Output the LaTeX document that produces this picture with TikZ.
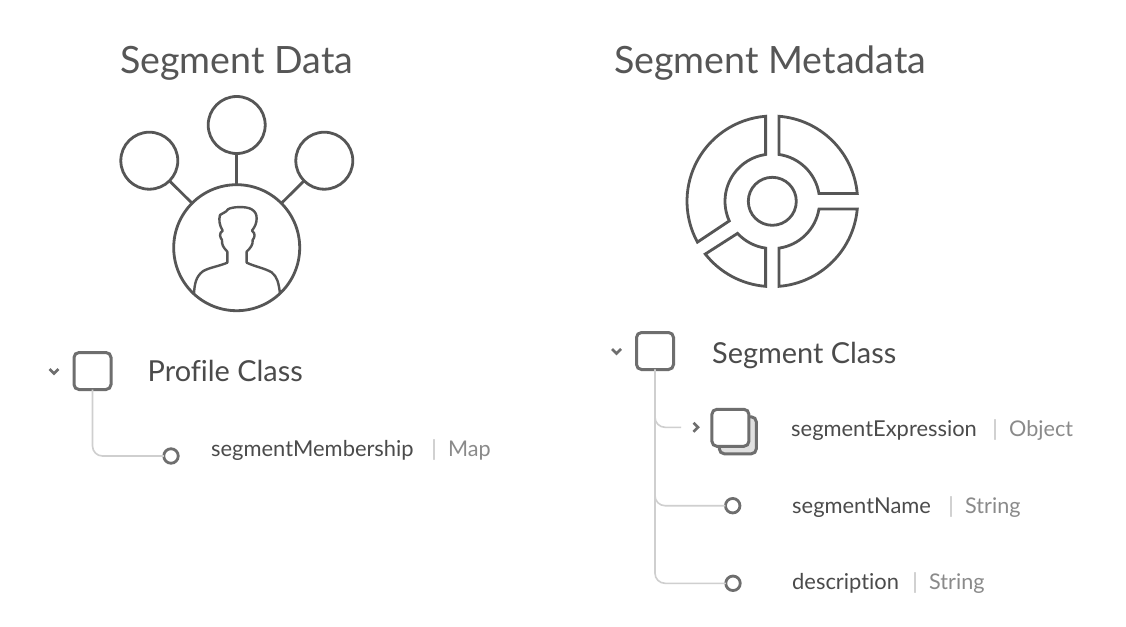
\documentclass[tikz,border=0pt]{standalone}
\usepackage{fontspec}
\setmainfont[Ligatures=NoCommon]{Lato}
\definecolor{ink}{HTML}{565656}
\definecolor{boxc}{HTML}{6E6E6E}
\definecolor{treec}{HTML}{CFCFCF}
\definecolor{txt}{HTML}{4B4B4B}
\definecolor{typec}{HTML}{8A8A8A}
\definecolor{sepc}{HTML}{C4C4C4}
\tikzset{
  x=1pt,y=-1pt,
  icon/.style={draw=ink,line width=2.8pt,line join=miter},
  bub/.style={circle,draw=ink,line width=2.8pt,inner sep=0pt,outer sep=0pt,minimum size=#1},
  cbox/.style={rectangle,draw=boxc,line width=3pt,rounded corners=5pt,inner sep=0pt,outer sep=0pt,minimum size=37pt,fill=white},
  leaf/.style={circle,draw=boxc,line width=2.8pt,inner sep=0pt,outer sep=0pt,minimum size=14.5pt,fill=white},
  tree/.style={draw=treec,line width=1.6pt,rounded corners=10pt},
  chev/.style={draw=boxc,line width=2.6pt},
  title/.style={anchor=base west,inner sep=0pt,text=ink,font=\fontsize{37.6}{40}\selectfont},
  classlbl/.style={anchor=base west,inner sep=0pt,text=txt,font=\fontsize{28.9}{32}\selectfont},
  fieldlbl/.style={anchor=base west,inner sep=0pt,text=txt,font=\fontsize{21.9}{26}\selectfont},
  typelbl/.style={anchor=base west,inner sep=0pt,text=typec,font=\fontsize{21.6}{26}\selectfont},
  seplbl/.style={anchor=base,inner sep=0pt,text=sepc,font=\fontsize{22}{26}\selectfont},
}
\begin{document}
\begin{tikzpicture}
\useasboundingbox (0,0) rectangle (1126,626);
\fill[white] (0,0) rectangle (1126,626);

\node[title] (t1) at (120,74) {Segment Data};
\node[title] (t2) at (614,74) {Segment Metadata};

% left icon
\node[bub=126pt] (hub) at (236.7,247.7) {};
\node[bub=57pt] (bl) at (149.3,160.7) {};
\node[bub=57pt] (bt) at (236.7,125) {};
\node[bub=57pt] (br) at (324.3,160.7) {};
\draw[icon] (bl) -- (hub);
\draw[icon] (bt) -- (hub);
\draw[icon] (br) -- (hub);
\begin{scope}[shift={(100,90)},x=0.3333pt,y=-0.3333pt]
\draw[icon,line width=2.4pt,line join=round] (282,610) .. controls (284,585) and (286,560) .. (310,543)
  .. controls (330,532) and (360,528) .. (382,518) -- (382,485)
  .. controls (370,472) and (365,465) .. (366,450) .. controls (360,442) and (356,430) .. (368,422)
  .. controls (358,405) and (356,390) .. (360,375) .. controls (368,368) and (378,368) .. (384,358)
  .. controls (395,350) and (440,348) .. (455,358) .. controls (465,364) and (470,372) .. (470,385)
  .. controls (470,400) and (465,410) .. (456,422) .. controls (468,432) and (464,442) .. (458,450)
  .. controls (460,465) and (450,475) .. (440,485) -- (440,518)
  .. controls (465,530) and (495,535) .. (515,547) .. controls (532,560) and (536,580) .. (540,610);
\end{scope}

% right icon
\begin{scope}[shift={(772.3,201.3)},x=1pt,y=1pt]
\draw[icon] (85.5:85.3pt) arc[start angle=85.5,end angle=5.2,radius=85.3pt] -- (9.4:47.3pt) arc[start angle=9.4,end angle=81.9,radius=47.3pt] -- cycle;
\draw[icon] (94.5:85.3pt) arc[start angle=94.5,end angle=208.6,radius=85.3pt] -- (204.5:47.3pt) arc[start angle=204.5,end angle=98.1,radius=47.3pt] -- cycle;
\draw[icon] (218.2:85.3pt) arc[start angle=218.2,end angle=265.5,radius=85.3pt] -- (261.9:47.3pt) arc[start angle=261.9,end angle=222.7,radius=47.3pt] -- cycle;
\draw[icon] (-5.2:85.3pt) arc[start angle=-5.2,end angle=-85.5,radius=85.3pt] -- (-81.9:47.3pt) arc[start angle=-81.9,end angle=-9.4,radius=47.3pt] -- cycle;
\node[bub=48pt] (core) at (0,0) {};
\end{scope}

% left tree
\node[cbox] (pc) at (92.5,371) {};
\node[leaf] (pm) at (171,456) {};
\draw[tree] (pc.south) |- (pm.west);
\draw[chev] (49.5,369) -- (54,373.5) -- (58.5,369);
\node[classlbl] (pcl) at (147.5,381) {Profile Class};
\node[fieldlbl] (pml) at (211,456) {segmentMembership};
\node[seplbl] (pms) at (434,456) {|};
\node[typelbl] (pmt) at (448,456) {Map};

% right tree
\node[cbox] (sc) at (655,351) {};
\coordinate (e1) at (681,427.3);
\node[leaf] (sn) at (732.7,505.7) {};
\node[leaf] (de) at (733,583.3) {};
\draw[tree] (sc.south) |- (e1);
\draw[tree] (sc.south) |- (sn.west);
\draw[tree] (sc.south) |- (de.west);
\draw[chev] (612,349) -- (616.5,353.5) -- (621,349);
\draw[chev] (693.5,422.8) -- (698,427.3) -- (693.5,431.8);
\node[cbox,fill=black!12] (se2) at (737.8,435.3) {};
\node[cbox] (se1) at (730.4,427.8) {};
\node[classlbl] (scl) at (712,363) {Segment Class};
\node[fieldlbl] (sel) at (791,436) {segmentExpression};
\node[seplbl] (ses) at (995,436) {|};
\node[typelbl] (set) at (1009,436) {Object};
\node[fieldlbl] (snl) at (792,513) {segmentName};
\node[seplbl] (sns) at (951,513) {|};
\node[typelbl] (snt) at (965,513) {String};
\node[fieldlbl] (del) at (792,589) {description};
\node[seplbl] (des) at (915,589) {|};
\node[typelbl] (det) at (929,589) {String};
\end{tikzpicture}
\end{document}
